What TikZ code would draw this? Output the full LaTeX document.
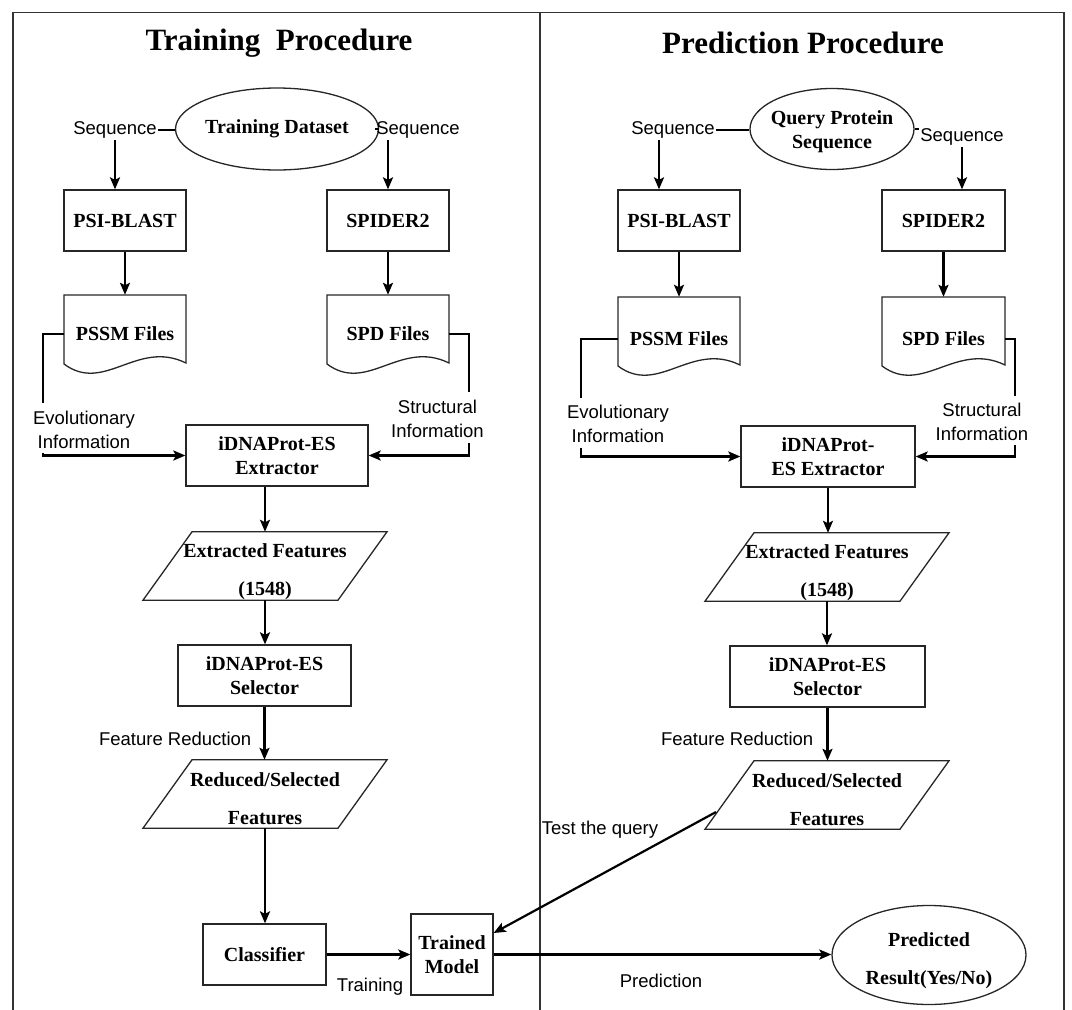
\documentclass[tikz,border=0pt]{standalone}
\usepackage{fontspec}
\setmainfont{Liberation Serif}
\setsansfont{Liberation Sans}
\usetikzlibrary{shapes.geometric,arrows.meta,calc}
\tikzset{
 x=1pt,y=-1pt,
 shp/.style={draw=black!85, line width=1.3pt},
 bx/.style={shp, rectangle, inner sep=0pt, align=center, font=\bfseries\fontsize{20}{24}\selectfont},
 txt/.style={inner sep=0pt, align=center, font=\bfseries\fontsize{20}{24}\selectfont},
 wide/.style={font=\bfseries\fontsize{20}{38}\selectfont},
 lbl/.style={inner sep=1.5pt, align=center, font=\sffamily\fontsize{18.5}{24}\selectfont},
 ttl/.style={inner sep=0pt, font=\bfseries\fontsize{31}{36}\selectfont},
 con/.style={line width=2.2pt, black},
 arr/.style={con, -{Stealth[length=12pt,width=10pt,inset=2.5pt]}},
 ell/.style={shp, ellipse, inner sep=0pt, align=center, font=\bfseries\fontsize{20}{24}\selectfont},
 slot/.style={inner sep=0pt, minimum width=195pt, minimum height=68pt},
}
\newcommand{\mydoc}[3]{%
 \draw[shp] (#1,#3) -- (#2,#3) -- (#2,#3+68) .. controls ({#1+0.6*(#2-#1)},{#3+68-24}) and ({#1+0.33*(#2-#1)},{#3+69+30}) .. (#1,#3+69) -- cycle;}
\newcommand{\mypara}[1]{%
 \draw[shp] ([xshift=-73pt]#1.north) -- ([xshift=122pt]#1.north) -- ([xshift=73pt]#1.south) -- ([xshift=-122pt]#1.south) -- cycle;}
\begin{document}
\begin{tikzpicture}
\useasboundingbox (0,0) rectangle (1072,1010);
% frame
\draw[line width=1.2pt, black!80] (13,1010) -- (13,12.5) -- (1064,12.5) -- (1064,1010);
\draw[line width=1.2pt, black!80] (540,12.5) -- (540,1010);

% titles
\node[ttl] (t1) at (279,43) {Training\ \ Procedure};
\node[ttl] (t2) at (803,43) {Prediction Procedure};

% ===== Training =====
\node[ell, minimum width=162pt, minimum height=82pt] (ds1) at (277,129) {\raisebox{-2pt}{Training Dataset}};
\node[lbl] (sl1) at (115,130) {Sequence};
\node[lbl] (sr1) at (418,130) {Sequence};
\node[bx, minimum width=122pt, minimum height=61pt] (psi1) at (125,220.5) {PSI-BLAST};
\node[bx, minimum width=122pt, minimum height=61pt] (spi1) at (388,220.5) {SPIDER2};
\mydoc{64}{186}{295}
\node[txt, minimum width=122pt, minimum height=78pt] (pssm1) at (125,334) {\raisebox{-2pt}{PSSM Files}};
\mydoc{327}{449}{295}
\node[txt, minimum width=122pt, minimum height=78pt] (spd1) at (388,334) {\raisebox{-2pt}{SPD Files}};
\node[lbl] (ev1) at (84,430) {Evolutionary\\Information};
\node[lbl] (st1) at (437.5,419) {Structural\\Information};
\node[bx, minimum width=182pt, minimum height=61pt] (ext1) at (277,455.5) {iDNAProt-ES\\Extractor};
\node[slot] (ef1) at (265,566) {};
\mypara{ef1}
\node[txt, wide] (ef1t) at ([yshift=-6pt]ef1.center) {Extracted Features\\(1548)};
\node[bx, minimum width=173pt, minimum height=61pt] (sel1) at (264.5,675.5) {iDNAProt-ES\\Selector};
\node[lbl, anchor=east] (fr1) at (253,739) {Feature Reduction};
\node[slot] (rs1) at (265,794) {};
\mypara{rs1}
\node[txt, wide] (rs1t) at ([yshift=-5pt]rs1.center) {Reduced/Selected\\Features};
\node[bx, minimum width=123pt, minimum height=61pt] (cls) at (264.5,954.5) {Classifier};
\node[bx, minimum width=82pt, minimum height=81pt] (tm) at (452,954.5) {Trained\\Model};
\node[lbl] (trn) at (370,987) {Training};

% ===== Prediction =====
\node[ell, minimum width=164pt, minimum height=81pt] (ds2) at (832,129) {};
\node[txt] (ds2t) at ([yshift=-3pt]ds2.center) {Query Protein\\Sequence};
\node[lbl] (sl2) at (673,130) {Sequence};
\node[lbl] (sr2) at (962,137) {Sequence};
\node[bx, minimum width=122pt, minimum height=61pt] (psi2) at (679,220.5) {PSI-BLAST};
\node[bx, minimum width=123pt, minimum height=61pt] (spi2) at (943.5,220.5) {SPIDER2};
\mydoc{618}{740}{297}
\node[txt, minimum width=122pt, minimum height=84pt] (pssm2) at (679,339) {\raisebox{-2pt}{PSSM Files}};
\mydoc{882}{1005}{297}
\node[txt, minimum width=123pt, minimum height=84pt] (spd2) at (943.5,339) {\raisebox{-2pt}{SPD Files}};
\node[lbl] (ev2) at (618,424) {Evolutionary\\Information};
\node[lbl] (st2) at (982,421.5) {Structural\\Information};
\node[bx, minimum width=174pt, minimum height=61pt] (ext2) at (828,456.5) {iDNAProt-\\ES Extractor};
\node[slot] (ef2) at (827,567) {};
\mypara{ef2}
\node[txt, wide] (ef2t) at ([yshift=-6pt]ef2.center) {Extracted Features\\(1548)};
\node[bx, minimum width=195pt, minimum height=61pt] (sel2) at (827.5,676.5) {iDNAProt-ES\\Selector};
\node[lbl, anchor=east] (fr2) at (815,739) {Feature Reduction};
\node[slot] (rs2) at (827,795) {};
\mypara{rs2}
\node[txt, wide] (rs2t) at ([yshift=-5pt]rs2.center) {Reduced/Selected\\Features};
\node[ell, minimum width=194pt, minimum height=99pt] (pr) at (929,955) {};
\node[txt, wide] (prt) at ([yshift=-6pt]pr.center) {Predicted\\Result(Yes/No)};
\node[lbl] (tq) at (600,830) {Test the query};
\node[lbl] (pre) at (661,981) {Prediction};

% ===== connectors: training =====
\draw[con] (sl1.east) -- (sl1.east -| ds1.west);
\draw[con] (ds1.east) -- (ds1.east -| sr1.west);
\draw[arr] (sl1.south) -- (sl1.south |- psi1.north);
\draw[arr] (spi1.north |- sr1.south) -- (spi1.north);
\draw[arr] (psi1.south) -- (pssm1.north);
\draw[arr] (spi1.south) -- (spd1.north);
\coordinate (e1a) at (43,403);
\coordinate (e1b) at (43,453);
\draw[con] (pssm1.west) -| (e1a);
\draw[arr] (e1b) |- (ext1.west);
\coordinate (s1a) at (469,392);
\coordinate (s1b) at (469,443);
\draw[con] (spd1.east) -| (s1a);
\draw[arr] (s1b) |- (ext1.east);
\draw[arr] (ef1.north |- ext1.south) -- (ef1.north);
\draw[arr] (ef1.south) -- (ef1.south |- sel1.north);
\draw[arr] (sel1.south) -- (sel1.south |- rs1.north);
\draw[arr] (rs1.south) -- (rs1.south |- cls.north);
\draw[arr] (cls.east) -- (tm.west);
\draw[arr] (tm.east) -- (tm.east -| pr.west);

% ===== connectors: prediction =====
\draw[con] (sl2.east) -- (sl2.east -| ds2.west);
\draw[con] (ds2.east) -- (ds2.east -| sr2.west);
\draw[arr] ([xshift=-14pt]sl2.south) -- ([xshift=-14pt]sl2.south |- psi2.north);
\draw[arr] (sr2.south) -- (sr2.south |- spi2.north);
\draw[arr] (psi2.south) -- (pssm2.north);
\draw[arr] (spi2.south) -- (spd2.north);
\coordinate (e2a) at (581,398);
\coordinate (e2b) at (581,448);
\draw[con] (pssm2.west) -| (e2a);
\draw[arr] (e2b) |- (ext2.west);
\coordinate (s2a) at (1015,396);
\coordinate (s2b) at (1015,445);
\draw[con] (spd2.east) -| (s2a);
\draw[arr] (s2b) |- (ext2.east);
\draw[arr] (ext2.south) -- (ext2.south |- ef2.north);
\draw[arr] (ef2.south) -- (ef2.south |- sel2.north);
\draw[arr] (sel2.south) -- (sel2.south |- rs2.north);
\coordinate (tqs) at (716,812);
\draw[arr] (tqs) -- ([yshift=21.5pt]tm.east);
\end{tikzpicture}
\end{document}
